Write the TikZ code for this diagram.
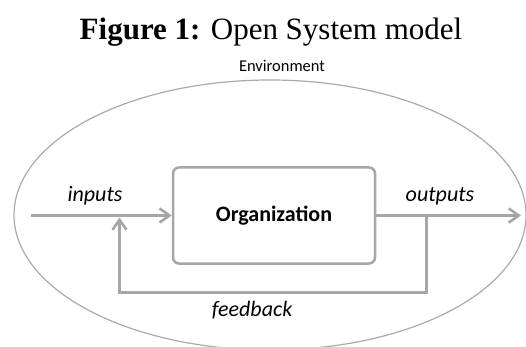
\documentclass[tikz,border=0pt]{standalone}
\usepackage{fontspec}
\setmainfont{Liberation Serif}
\newfontfamily\bodyfont{Carlito}
\usetikzlibrary{arrows.meta}
\definecolor{linegray}{RGB}{166,166,166}
\definecolor{ringgray}{RGB}{170,170,170}
\begin{document}
\begin{tikzpicture}[x=1pt,y=-1pt,
  flow/.style={draw=linegray, line width=3pt, line join=miter,
    -{Straight Barb[length=10pt,width=14pt,line width=2.6pt]}},
  orgbox/.style={draw=linegray, line width=2.5pt, rounded corners=6pt,
    minimum width=202pt, minimum height=96pt, inner sep=0pt,
    font=\bodyfont\fontsize{22}{26}\selectfont\bfseries},
  lbl/.style={font=\bodyfont\itshape\fontsize{22}{26}\selectfont, inner sep=0pt}]
\useasboundingbox (0,0) rectangle (526,347);

% caption above the model
\node (title) at (271,32) {\fontsize{31}{36}\selectfont\textbf{Figure 1:} Open System model};

% environment boundary
\node[font=\bodyfont\fontsize{16.5}{19}\selectfont, inner sep=0pt] (env) at (282,66) {Environment};
\draw[ringgray, line width=1.2pt] (270,215) ellipse [x radius=256, y radius=135];

% the system
\node[orgbox] (org) at (274,215.5) {Organization};

% inputs and outputs
\coordinate (src) at (31,215.5);
\coordinate (dst) at (521,215.5);
\coordinate (tap) at (426,215.5);
\coordinate (tapdown) at (426,292.5);
\coordinate (backleft) at (119.5,292.5);
\coordinate (merge) at (119.5,217.5);

\draw[flow] (src) -- (org.west);
\draw[flow] (org.east) -- (dst);

% feedback loop
\draw[flow] (tap) -- (tapdown) -- (backleft) -- (merge);

\node[lbl] (inl) at (95,196) {inputs};
\node[lbl] (outl) at (440,196) {outputs};
\node[lbl] (fbl) at (252,310) {feedback};
\end{tikzpicture}
\end{document}
